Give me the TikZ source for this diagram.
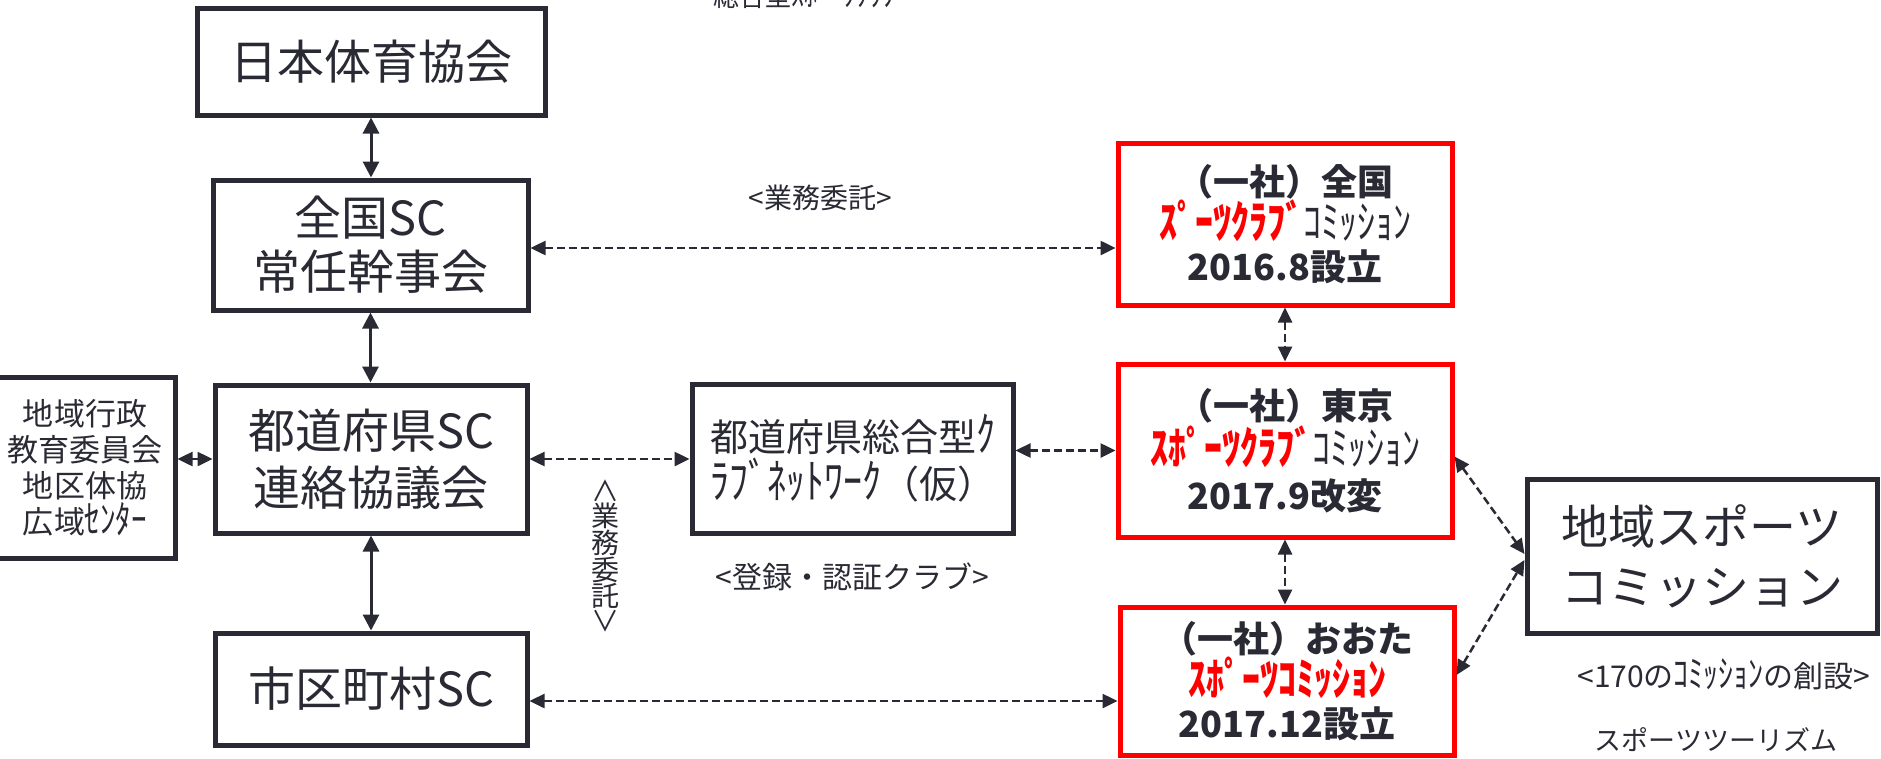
\documentclass[tikz,border=0pt]{standalone}
\usepackage{fontspec}
\setmainfont{Noto Sans CJK JP}
\usetikzlibrary{arrows.meta}
\definecolor{ink}{HTML}{2A2A35}
\definecolor{rd}{HTML}{FF0000}
\tikzset{
 box/.style={draw=ink, line width=5pt, rectangle, inner sep=0pt, text=ink, align=center},
 redbox/.style={draw=rd, line width=5pt, rectangle, inner sep=0pt, text=ink, align=center},
 conn/.style={draw=ink, line width=3pt, {Triangle[length=16pt,width=16pt]}-{Triangle[length=16pt,width=16pt]}},
 dconn/.style={draw=ink, line width=2.5pt, dash pattern=on 8pt off 4pt, {Triangle[length=15pt,width=14pt]}-{Triangle[length=15pt,width=14pt]}},
 lbl/.style={text=ink, inner sep=0pt, align=center},
}
\newcommand{\fsz}[2]{\fontsize{#1}{#2}\selectfont}
\newcommand{\hw}[1]{\scalebox{1}[1.25]{#1}}
\begin{document}
\begin{tikzpicture}[x=1pt,y=-1pt]
\useasboundingbox[fill=white] (0,0) rectangle (1881,758);
% left column
\node[box, minimum width=348pt, minimum height=107pt, font=\fsz{47}{54}] (jpn) at (371,61.5) {日本体育協会};
\node[box, minimum width=315pt, minimum height=130pt, font=\fsz{47}{54}] (zensc) at (370.5,245) {全国SC\\常任幹事会};
\node[box, minimum width=312pt, minimum height=148pt, font=\fsz{47}{57}] (todsc) at (371,459) {都道府県SC\\連絡協議会};
\node[box, minimum width=312pt, minimum height=112pt, font=\fsz{47}{54}] (shiku) at (371,689) {市区町村SC};
\node[box, minimum width=180pt, minimum height=181pt, font=\fsz{31}{36}] (chiiki) at (85,467.5) {地域行政\\教育委員会\\地区体協\\広域\hw{ｾﾝﾀｰ}};
% middle
\node[box, minimum width=321pt, minimum height=149pt, font=\fsz{38}{47}] (net) at (852.5,458.5) {都道府県総合型\hw{ｸ}\\\hw{ﾗﾌﾞﾈｯﾄﾜｰｸ}（仮）};
% red boxes
\node[redbox, minimum width=334pt, minimum height=162pt, font=\fsz{36}{42}] (zen) at (1285,224)
 {{\bfseries （一社）全国}\\\hw{{\color{rd}\bfseries ｽﾟｰﾂｸﾗﾌﾞ}ｺﾐｯｼｮﾝ}\\{\bfseries 2016.8設立}};
\node[redbox, minimum width=334pt, minimum height=173pt, font=\fsz{36}{45}] (tokyo) at (1285,450.5)
 {{\bfseries （一社）東京}\\\hw{{\color{rd}\bfseries ｽﾎﾟｰﾂｸﾗﾌﾞ}ｺﾐｯｼｮﾝ}\\{\bfseries 2017.9改変}};
\node[redbox, minimum width=334pt, minimum height=148pt, font=\fsz{36}{42}] (oita) at (1287,681)
 {{\bfseries （一社）おおた}\\\hw{{\color{rd}\bfseries ｽﾎﾟｰﾂｺﾐｯｼｮﾝ}}\\{\bfseries 2017.12設立}};
% right
\node[box, minimum width=350pt, minimum height=154pt, font=\fsz{47}{60}] (region) at (1702,556) {地域スポーツ\\コミッション};
% labels
\node[lbl, font=\fsz{26}{30}] (top) at (811,-6) {総合型\hw{ｽﾎﾟｰﾂｸﾗﾌﾞ}};
\node[lbl, font=\fsz{28}{30}] (itaku) at (820,198) {<業務委託>};
\node[lbl, font=\fsz{30}{34}] (toroku) at (852,577) {<登録・認証クラブ>};
\node[lbl, font=\fsz{28}{25}] (vitaku) at (605,556) {∧\\業\\務\\委\\託\\∨};
\node[lbl, font=\fsz{30}{34}] (sousetsu) at (1724,674) {<170の\hw{ｺﾐｯｼｮﾝ}の創設>};
\node[lbl, font=\fsz{27}{30}] (tourism) at (1716,740) {スポーツツーリズム};
% solid connectors
\draw[conn] (jpn.south) -- (jpn.south |- zensc.north);
\draw[conn] (zensc.south) -- (zensc.south |- todsc.north);
\draw[conn] (todsc.south) -- (todsc.south |- shiku.north);
% dashed connectors
\draw[dconn] (todsc.west -| chiiki.east) -- (todsc.west);
\path ([yshift=-3pt]zensc.east) coordinate (a1);
\draw[dconn] (a1) -- (a1 -| zen.west);
\draw[dconn] (todsc.east) -- (todsc.east -| net.west);
\path ([yshift=8pt]net.east) coordinate (a2);
\draw[dconn] (a2) -- (a2 -| tokyo.west);
\path ([yshift=-12pt]shiku.east) coordinate (a3);
\draw[dconn] (a3) -- (a3 -| oita.west);
\draw[dconn] (zen.south) -- (zen.south |- tokyo.north);
\draw[dconn] (tokyo.south) -- (tokyo.south |- oita.north);
\draw[dconn] ([yshift=-6pt]tokyo.east) -- ([yshift=2pt]region.west);
\draw[dconn] ([yshift=6pt]oita.east) -- ([yshift=-4pt]region.west);
\end{tikzpicture}
\end{document}
